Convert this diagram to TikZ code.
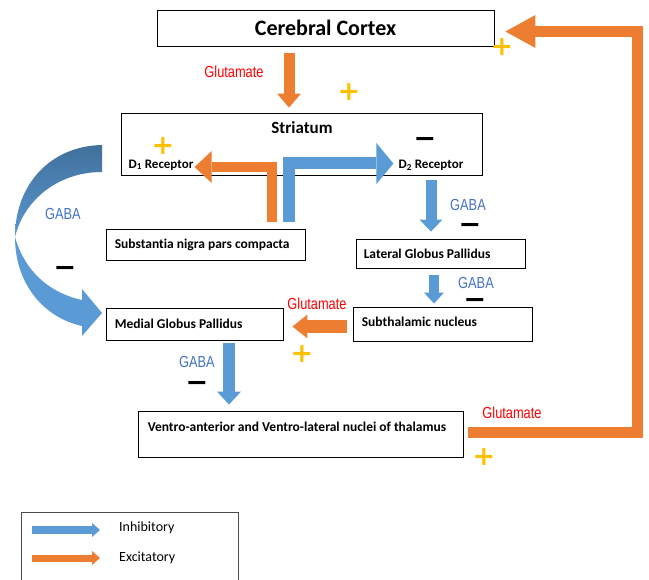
\documentclass[tikz,border=0pt]{standalone}
\usepackage{fontspec}
\setmainfont[Ligatures=CommonOff]{Carlito}
\newfontfamily\narrowfont[FakeStretch=0.8]{Liberation Sans}
\newfontfamily\signfont{DejaVu Sans}
\usetikzlibrary{arrows.meta}
\definecolor{orA}{HTML}{ED7D31}
\definecolor{blA}{HTML}{5B9BD5}
\definecolor{blD}{HTML}{41719C}
\definecolor{gabaC}{HTML}{4472C4}
\definecolor{plusC}{HTML}{FFC000}
\begin{document}
\begin{tikzpicture}[x=1pt,y=-1pt,
  box/.style={draw=black, line width=0.9pt, rectangle, inner sep=0pt},
  btxt/.style={font=\fontsize{13.5}{15}\selectfont\bfseries, inner sep=0pt, anchor=west},
  gaba/.style={font=\narrowfont\fontsize{16}{18}\selectfont, text=gabaC, inner sep=0pt},
  glu/.style={font=\narrowfont\fontsize{16}{18}\selectfont, text=red, inner sep=0pt},
  plussign/.style={font=\signfont\bfseries\fontsize{27}{27}\selectfont, text=plusC, inner sep=0pt},
  minussign/.style={font=\signfont\bfseries\fontsize{27}{27}\selectfont, text=black, inner sep=0pt, yshift=-4pt},
  blockarrow/.style n args={4}{draw=#1, line width=#2, line join=miter,
     -{Triangle[width=#3,length=#4,line width=0pt]}},
  legtxt/.style={font=\fontsize{14}{16}\selectfont, inner sep=0pt, anchor=west}
]
\useasboundingbox (0,0) rectangle (649,580);
\fill[white] (0,0) rectangle (649,580);

% boxes
\node[box, minimum width=337pt, minimum height=36pt, font=\fontsize{22}{24}\selectfont\bfseries] (cortex) at (325.5,28) {Cerebral Cortex};
\node[box, minimum width=361pt, minimum height=62pt] (striatum) at (301.5,144) {};
\node[box, minimum width=199pt, minimum height=31pt] (snpc) at (205.5,244.5) {};
\node[box, minimum width=169pt, minimum height=29pt] (lgp) at (440.5,253.5) {};
\node[box, minimum width=179pt, minimum height=34pt] (stn) at (442.5,324) {};
\node[box, minimum width=177pt, minimum height=32pt] (mgp) at (194.5,324) {};
\node[box, minimum width=325pt, minimum height=46pt] (thal) at (300.5,434) {};

% box texts
\node[font=\fontsize{17}{19}\selectfont\bfseries, inner sep=0pt] (striT) at (302,128) {Striatum};
\node[font=\fontsize{13}{15}\selectfont\bfseries, inner sep=0pt] (d1) at (161,165) {D\textsubscript{1} Receptor};
\node[font=\fontsize{13}{15}\selectfont\bfseries, inner sep=0pt] (d2) at (431,165) {D\textsubscript{2} Receptor};
\node[btxt] (snpcT) at ([xshift=9pt]snpc.west) {Substantia nigra pars compacta};
\node[btxt] (lgpT) at ([xshift=8pt]lgp.west) {Lateral Globus Pallidus};
\node[btxt] (stnT) at ([xshift=9pt,yshift=2pt]stn.west) {Subthalamic nucleus};
\node[btxt] (mgpT) at ([xshift=9pt]mgp.west) {Medial Globus Pallidus};
\node[btxt] (thalT) at ([xshift=10pt,yshift=7pt]thal.west) {Ventro-anterior and Ventro-lateral nuclei of thalamus};

% arrows
\draw[blockarrow={orA}{11pt}{24pt}{14pt}] ([xshift=-36.5pt,yshift=-7pt]cortex.south) -- ([xshift=-12.5pt,yshift=5pt]striatum.north);
\draw[blockarrow={orA}{10.5pt}{32pt}{17pt}] ([xshift=66.5pt,yshift=7pt]snpc.north) |- ([xshift=1pt,yshift=-2pt]d1.east);
\draw[blockarrow={blA}{12pt}{41pt}{17pt}] ([xshift=83.5pt,yshift=7pt]snpc.north) |- ([xshift=-5pt,yshift=1.5pt]d2.west);
\draw[blockarrow={blA}{11pt}{23pt}{12pt}] ([xshift=129.5pt,yshift=-5pt]striatum.south) -- ([xshift=-9.5pt,yshift=7pt]lgp.north);
\draw[blockarrow={blA}{10pt}{20pt}{11pt}] ([xshift=-6.5pt,yshift=-7pt]lgp.south) -- ([xshift=-8.5pt,yshift=3pt]stn.north);
\draw[blockarrow={orA}{13pt}{24pt}{15pt}] ([xshift=-6pt,yshift=-2.5pt]stn.west) -- ([xshift=9pt,yshift=-2.5pt]mgp.east);
\draw[blockarrow={blA}{12pt}{24pt}{13pt}] ([xshift=34.5pt,yshift=-3pt]mgp.south) -- ([xshift=-71.5pt,yshift=6pt]thal.north);
\coordinate (ret) at (637,31.5);
\draw[blockarrow={orA}{11pt}{33pt}{30pt}] ([xshift=5pt,yshift=1.5pt]thal.east) -| (ret) -- ([xshift=11pt,yshift=-3.5pt]cortex.east);

% curved GABA arrow striatum -> medial GP
\fill[blA] (15,237) .. controls (15,285) and (45,318) .. (82,326) -- (82,336) -- (102,313)
  -- (82,289) -- (82,300) .. controls (50,293) and (25,272) .. (15,237) -- cycle;
\shade[top color=blD, bottom color=blA!90!blD] (102,145) .. controls (50,146) and (15,185) .. (15,237)
  .. controls (24,200) and (58,172) .. (102,172) -- cycle;

% labels
\node[glu] (glu1) at (234,72) {Glutamate};
\node[glu] (glu2) at (317,304) {Glutamate};
\node[glu] (glu3) at (512,413) {Glutamate};
\node[gaba] (gaba1) at (468,205) {GABA};
\node[gaba] (gaba2) at (476,283) {GABA};
\node[gaba] (gaba3) at (197,362) {GABA};
\node[gaba] (gaba4) at (63,214) {GABA};

\node[plussign] (p1) at (349,92) {+};
\node[plussign] (p2) at (502,47) {+};
\node[plussign] (p3) at (163,146) {+};
\node[plussign] (p4) at (302,354) {+};
\node[plussign] (p5) at (484,457) {+};
\node[minussign] (m1) at (425,138) {−};
\node[minussign] (m2) at (470,224) {−};
\node[minussign] (m3) at (475,299) {−};
\node[minussign] (m4) at (197,382) {−};
\node[minussign] (m5) at (65,267) {−};

% legend
\draw[black!70, line width=0.9pt] (21,590) |- (238,512) -- (238,590);
\coordinate (li1) at (32,530); \coordinate (li2) at (100,530);
\coordinate (le1) at (32,558); \coordinate (le2) at (100,558);
\draw[blockarrow={blA}{7pt}{14pt}{8pt}] (li1) -- (li2);
\draw[blockarrow={orA}{7pt}{14pt}{8pt}] (le1) -- (le2);
\node[legtxt] (inh) at (119,528) {Inhibitory};
\node[legtxt] (exc) at (119,558) {Excitatory};
\end{tikzpicture}
\end{document}
